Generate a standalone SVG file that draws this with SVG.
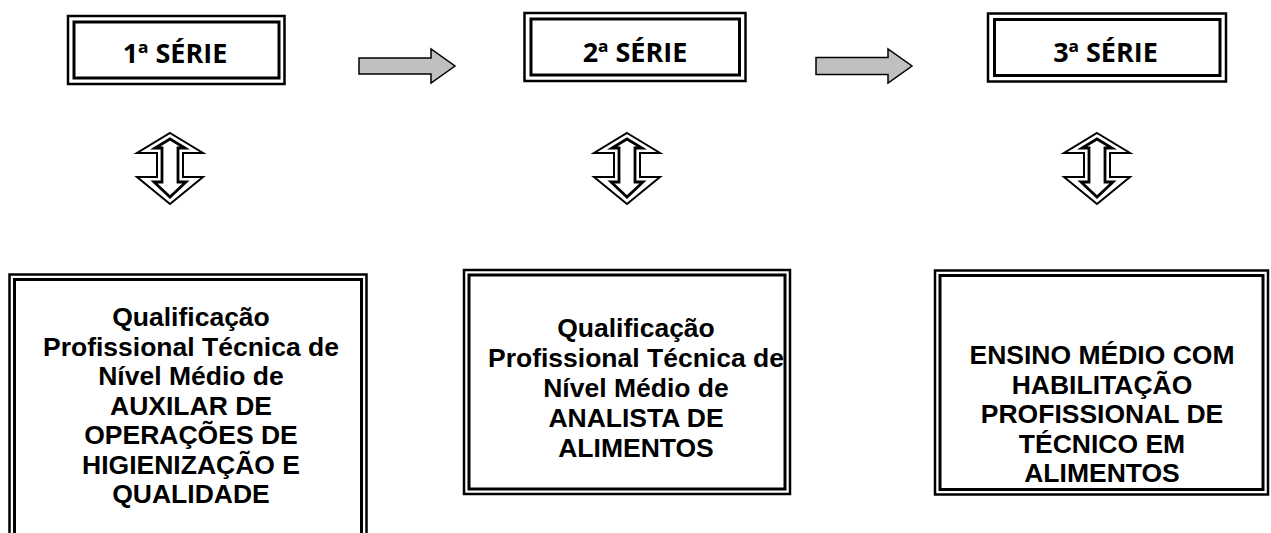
<svg xmlns="http://www.w3.org/2000/svg" width="1271" height="533" viewBox="0 0 1271 533">
<style>
.o{fill:none;stroke:#000;stroke-width:2.5}
.i{fill:none;stroke:#000;stroke-width:3}
.t{font-family:"Open Sans","Liberation Sans",sans-serif;font-weight:700;font-size:27px;fill:#000;text-anchor:middle}
.b{font-family:"Liberation Sans",Arial,sans-serif;font-weight:700;font-size:26.5px;fill:#000;text-anchor:middle}
.ra{fill:#c0c0c0;stroke:#000;stroke-width:1.5;stroke-linejoin:miter}
.da{fill:#fff;stroke:#000;stroke-width:2;stroke-linejoin:miter}
.di{fill:none;stroke:#000;stroke-width:2.8;stroke-linejoin:miter}
</style>
<rect width="1271" height="533" fill="#fff"/>
<g id="connectors">
<path class="ra" d="M359,58 L431,58 L431,49 L455,66 L431,83 L431,74 L359,74 Z"/>
<path class="ra" d="M816,57.5 L888,57.5 L888,49 L912,66 L888,83 L888,74.5 L816,74.5 Z"/>
<g id="ud1">
<path class="da" d="M170,133 L203,153 L183,153 L183,177 L203,177 L170,204 L137,177 L157,177 L157,153 L137,153 Z"/>
<path class="di" d="M170,139 L185,148 L178,148 L178,182 L186,182 L170,197 L154,182 L162,182 L162,148 L155,148 Z"/>
</g>
<g id="ud2" transform="translate(457,0)">
<path class="da" d="M170,133 L203,153 L183,153 L183,177 L203,177 L170,204 L137,177 L157,177 L157,153 L137,153 Z"/>
<path class="di" d="M170,139 L185,148 L178,148 L178,182 L186,182 L170,197 L154,182 L162,182 L162,148 L155,148 Z"/>
</g>
<g id="ud3" transform="translate(927,0)">
<path class="da" d="M170,133 L203,153 L183,153 L183,177 L203,177 L170,204 L137,177 L157,177 L157,153 L137,153 Z"/>
<path class="di" d="M170,139 L185,148 L178,148 L178,182 L186,182 L170,197 L154,182 L162,182 L162,148 L155,148 Z"/>
</g>
</g>
<g id="serie1">
<rect class="o" x="68" y="16" width="216.5" height="68"/>
<rect class="i" x="74" y="22" width="205" height="56"/>
<text class="t" x="175" y="63">1ª SÉRIE</text>
</g>
<g id="serie2">
<rect class="o" x="524.5" y="13" width="221" height="68"/>
<rect class="i" x="531" y="19" width="208.5" height="56"/>
<text class="t" x="635" y="62">2ª SÉRIE</text>
</g>
<g id="serie3">
<rect class="o" x="988" y="13.5" width="238" height="68"/>
<rect class="i" x="994.5" y="19.5" width="225.5" height="56"/>
<text class="t" x="1105.5" y="62">3ª SÉRIE</text>
</g>
<g id="qual1">
<rect class="o" x="9.5" y="274.5" width="357" height="280"/>
<rect class="i" x="14.5" y="279.5" width="347" height="270"/>
<g style="font-size:27px">
<text class="b" x="191" y="326">Qualificação</text>
<text class="b" x="191" y="355.5">Profissional Técnica de</text>
<text class="b" x="191" y="385">Nível Médio de</text>
<text class="b" x="191" y="414.5">AUXILAR DE</text>
<text class="b" x="191" y="444">OPERAÇÕES DE</text>
<text class="b" x="191" y="473.5">HIGIENIZAÇÃO E</text>
<text class="b" x="191" y="503">QUALIDADE</text>
</g>
</g>
<g id="qual2">
<rect class="o" x="464" y="270" width="326" height="224"/>
<rect class="i" x="469" y="275" width="316" height="214"/>
<text class="b" x="636" y="337">Qualificação</text>
<text class="b" x="636" y="367">Profissional Técnica de</text>
<text class="b" x="636" y="397">Nível Médio de</text>
<text class="b" x="636" y="427">ANALISTA DE</text>
<text class="b" x="636" y="457">ALIMENTOS</text>
</g>
<g id="hab3">
<rect class="o" x="935" y="270.5" width="333" height="224"/>
<rect class="i" x="940" y="275.5" width="323" height="214"/>
<text class="b" x="1102" y="364">ENSINO MÉDIO COM</text>
<text class="b" x="1102" y="393.5">HABILITAÇÃO</text>
<text class="b" x="1102" y="423">PROFISSIONAL DE</text>
<text class="b" x="1102" y="452.5">TÉCNICO EM</text>
<text class="b" x="1102" y="482">ALIMENTOS</text>
</g>
</svg>
